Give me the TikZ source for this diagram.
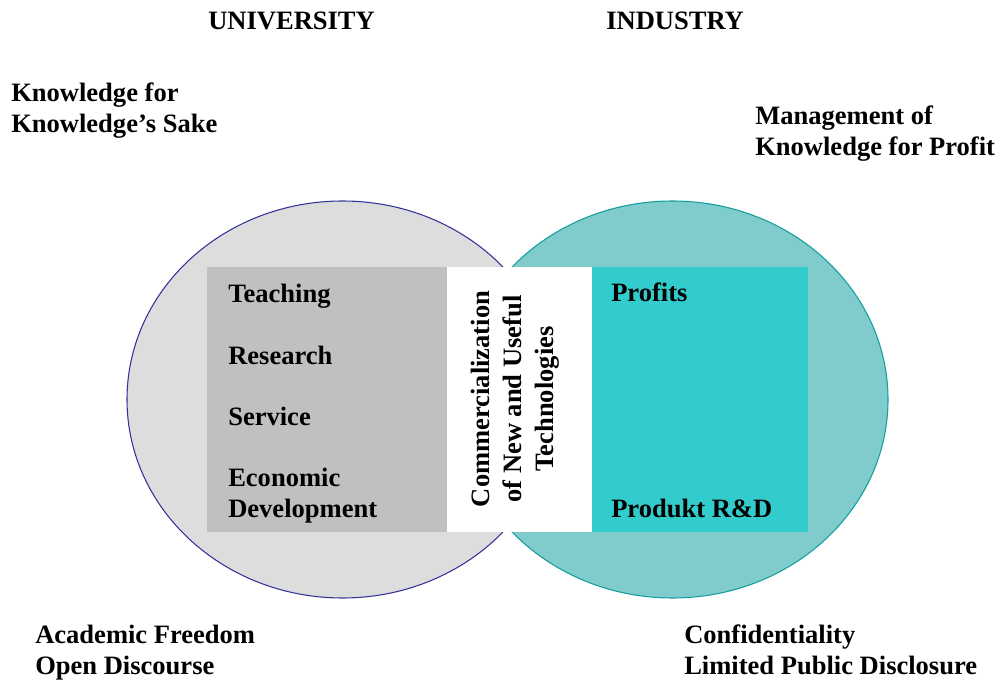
\documentclass[tikz,border=0pt]{standalone}
\usepackage{fontspec}
\setmainfont{Liberation Serif}
\definecolor{unifill}{HTML}{DDDDDD}
\definecolor{uniline}{HTML}{333399}
\definecolor{indfill}{HTML}{80CBCB}
\definecolor{indline}{HTML}{149E9E}
\definecolor{unibox}{HTML}{C0C0C0}
\definecolor{indbox}{HTML}{33CCCC}
\begin{document}
\begin{tikzpicture}[x=0.75pt,y=-0.75pt,
  lbl/.style={anchor=base west,inner sep=0pt,
    font=\bfseries\fontsize{19.9}{23.25}\selectfont},
  vlbl/.style={inner sep=0pt,rotate=90,align=center,
    font=\bfseries\fontsize{19.9}{24}\selectfont}]
\useasboundingbox (0,0) rectangle (998,680);

% the two spheres
\draw[uniline,line width=0.8pt,fill=unifill] (342.5,399.5) ellipse [x radius=215.5,y radius=198.5];
\draw[indline,line width=0.8pt,fill=indfill] (672.5,399.5) ellipse [x radius=215.5,y radius=198.5];

% inner panels
\fill[unibox] (207,267) rectangle (447,532);
\fill[white] (447,267) rectangle (592,532);
\fill[indbox] (592,267) rectangle (808,532);

% headings
\node[lbl] (uni) at (208,30) {UNIVERSITY};
\node[lbl] (ind) at (606,30) {INDUSTRY};

% corner captions
\node[lbl] (kk1) at (11,102) {Knowledge for};
\node[lbl] (kk2) at (11,133) {Knowledge’s Sake};
\node[lbl] (mk1) at (755,125) {Management of};
\node[lbl] (mk2) at (755,156) {Knowledge for Profit};
\node[lbl] (af1) at (35,643) {Academic Freedom};
\node[lbl] (af2) at (35,674) {Open Discourse};
\node[lbl] (cf1) at (684,643) {Confidentiality};
\node[lbl] (cf2) at (684,674) {Limited Public Disclosure};

% university activities
\node[lbl] (teach) at (228,303) {Teaching};
\node[lbl] (res) at (228,364) {Research};
\node[lbl] (serv) at (228,425) {Service};
\node[lbl] (eco1) at (228,486) {Economic};
\node[lbl] (eco2) at (228,517) {Development};

% industry activities
\node[lbl] (prof) at (611,302) {Profits};
\node[lbl] (prod) at (611,517) {Produkt R\&D};

% shared middle
\node[vlbl] (comm) at (515,399) {Commercialization\\of New and Useful\\Technologies};
\end{tikzpicture}
\end{document}
